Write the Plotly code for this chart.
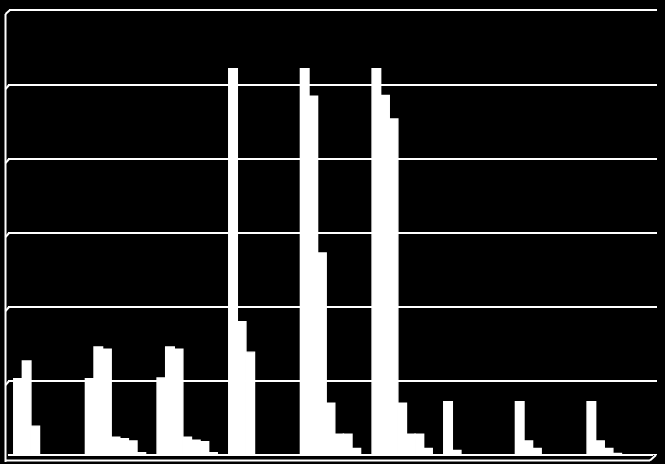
import plotly.graph_objects as go

categories = ["1", "2", "3", "4", "5", "6", "7", "8", "9"]
series_names = ["S1", "S2", "S3", "S4", "S5", "S6", "S7"]

s1 = [10.3, 10.3, 10.4, 52.2, 52.2, 52.2, 7.2, 7.2, 7.2]
s2 = [12.7, 14.6, 14.6, 18.0, 48.5, 48.6, 0.6, 1.9, 1.9]
s3 = [3.9, 14.3, 14.3, 13.9, 27.3, 45.4, 0, 0.9, 0.9]
s4 = [0, 2.4, 2.4, 0, 7.0, 7.0, 0, 0, 0.2]
s5 = [0, 2.2, 2.0, 0, 2.8, 2.8, 0, 0, 0]
s6 = [0, 1.9, 1.8, 0, 2.8, 2.8, 0, 0, 0]
s7 = [0, 0.3, 0.3, 0, 0.9, 0.9, 0, 0, 0]

y_ticks = [0, 10, 20, 30, 40, 50, 60]

fig = go.Figure()
for name, vals in zip(series_names, [s1, s2, s3, s4, s5, s6, s7]):
    fig.add_trace(go.Bar(x=categories, y=vals, name=name,
                         marker=dict(color="white",
                                     line=dict(color="white", width=1.4))))

W, H = 665, 464
ml, mr, mt, mb = 8, 12, 11, 9
pw, ph = W - ml - mr, H - mt - mb


def px(x):
    return (x - ml) / pw


def py(y):
    return (H - mb - y) / ph


shapes = []
# left wall and front edge of the floor
shapes.append(dict(type="line", xref="paper", yref="paper",
                   x0=px(5.5), x1=px(5.5), y0=py(462), y1=py(14),
                   line=dict(color="white", width=2), layer="below"))
shapes.append(dict(type="line", xref="paper", yref="paper",
                   x0=px(5), x1=px(650), y0=py(460.5), y1=py(460.5),
                   line=dict(color="white", width=2), layer="below"))
shapes.append(dict(type="line", xref="paper", yref="paper",
                   x0=px(650), x1=px(656), y0=py(460.5), y1=py(455),
                   line=dict(color="white", width=2), layer="below"))
# top edge of the back wall
shapes.append(dict(type="line", xref="paper", yref="paper",
                   x0=px(9), x1=px(657), y0=py(10), y1=py(10),
                   line=dict(color="white", width=2), layer="below"))
shapes.append(dict(type="line", xref="paper", yref="paper",
                   x0=px(5.5), x1=px(10), y0=py(14), y1=py(10),
                   line=dict(color="white", width=2), layer="below"))
for t in y_ticks[:-1]:
    # little 3d corners where the gridlines meet the wall
    shapes.append(dict(type="line", xref="paper", yref="y",
                       x0=px(5.5), x1=px(9), y0=t - 0.55, y1=t,
                       line=dict(color="white", width=2), layer="below"))
    # gridlines run a bit past the plot on the right
    shapes.append(dict(type="line", xref="paper", yref="y",
                       x0=1, x1=px(657), y0=t, y1=t,
                       line=dict(color="white", width=2), layer="below"))

fig.update_layout(
    width=W, height=H,
    margin=dict(l=ml, r=mr, t=mt, b=mb, pad=0),
    paper_bgcolor="black", plot_bgcolor="black",
    barmode="group", bargap=0.16, bargroupgap=0,
    showlegend=False,
    shapes=shapes,
    xaxis=dict(showgrid=False, showticklabels=False, showline=False,
               zeroline=False, ticks=""),
    yaxis=dict(range=[0, 60], tickvals=y_ticks, showticklabels=False,
               showgrid=True, gridcolor="white", gridwidth=2,
               zeroline=True, zerolinecolor="white", zerolinewidth=2,
               showline=False, ticks=""),
)

# page body has a default 8px margin; drop it so the chart sits at 0,0
fig.write_html("out.html",
               config={"displayModeBar": False},
               post_script="document.body.style.margin='0';"
                           "document.body.style.background='black';")
